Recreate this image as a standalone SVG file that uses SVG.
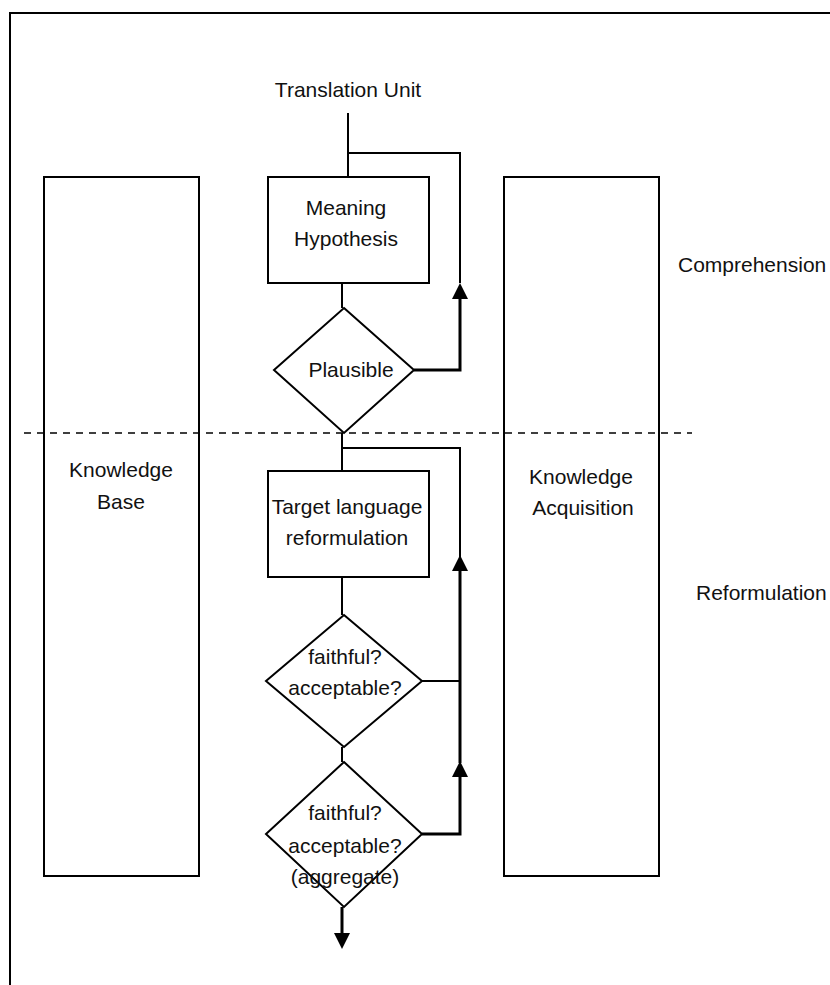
<svg xmlns="http://www.w3.org/2000/svg" width="830" height="985" viewBox="0 0 830 985">
<style>
.box{fill:none;stroke:#000;stroke-width:2}
.ln{fill:none;stroke:#000;stroke-width:2}
.thk{fill:none;stroke:#000;stroke-width:3}
.t{font-family:"Liberation Sans",Arial,sans-serif;font-size:21px;fill:#111;text-anchor:middle}
.ts{font-family:"Liberation Sans",Arial,sans-serif;font-size:21px;fill:#111}
</style>
<defs>
<marker id="ah" markerWidth="16" markerHeight="16" viewBox="0 0 16 16" refX="0" refY="8" orient="auto" markerUnits="userSpaceOnUse">
<path d="M0,0 L16,8 L0,16 Z" fill="#000"/>
</marker>
</defs>
<rect width="830" height="985" fill="#fff"/>
<path class="ln" d="M10,985 V13 H830"/>
<line x1="24" y1="433" x2="692" y2="433" stroke="#000" stroke-width="1.5" stroke-dasharray="7,6"/>
<g id="knowledge-base"><rect class="box" x="44" y="177" width="155" height="699"/><text class="t" x="121" y="477">Knowledge</text><text class="t" x="121" y="509">Base</text></g>
<g id="knowledge-acquisition"><rect class="box" x="504" y="177" width="155" height="699"/><text class="t" x="581" y="484">Knowledge</text><text class="t" x="583" y="515">Acquisition</text></g>
<g id="translation-unit"><text class="t" x="348" y="97">Translation Unit</text></g>
<g id="meaning-hypothesis"><rect class="box" x="268" y="177" width="161" height="106"/><text class="t" x="346" y="215">Meaning</text><text class="t" x="346" y="246">Hypothesis</text></g>
<g id="plausible"><polygon class="box" points="344,308 414,370 344,433 274,370"/><text class="t" x="351" y="377">Plausible</text></g>
<g id="target-reformulation"><rect class="box" x="268" y="471" width="161" height="106"/><text class="t" x="347" y="514">Target language</text><text class="t" x="347" y="545">reformulation</text></g>
<g id="faithful"><polygon class="box" points="344,615 422,681 344,747 266,681"/><text class="t" x="345" y="664">faithful?</text><text class="t" x="345" y="695">acceptable?</text></g>
<g id="faithful-aggregate"><polygon class="box" points="344,762 422,834 344,907 266,834"/><text class="t" x="345" y="820">faithful?</text><text class="t" x="345" y="853">acceptable?</text><text class="t" x="345" y="884">(aggregate)</text></g>
<g id="comprehension"><text class="ts" x="678" y="272">Comprehension</text></g>
<g id="reformulation"><text class="ts" x="696" y="600">Reformulation</text></g>
<g id="connectors">
<path class="ln" d="M348,113 V177"/>
<path class="ln" d="M348,153 H460 V283"/>
<path class="thk" d="M414,370 H460 V299" marker-end="url(#ah)"/>
<path class="ln" d="M342,283 V308"/>
<path class="ln" d="M342,433 V471"/>
<path class="ln" d="M342,448 H460 V557"/>
<path class="thk" d="M460,763 V571" marker-end="url(#ah)"/>
<path class="ln" d="M422,681 H460"/>
<path class="thk" d="M422,834 H460 V777" marker-end="url(#ah)"/>
<path class="ln" d="M342,577 V615"/>
<path class="ln" d="M342,747 V762"/>
<path class="thk" d="M342,907 V933" marker-end="url(#ah)"/>
</g>
</svg>
